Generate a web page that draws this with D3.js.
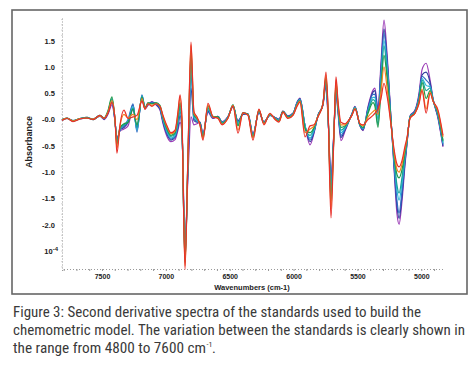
<!DOCTYPE html>
<html><head><meta charset="utf-8">
<script src="https://cdn.jsdelivr.net/npm/d3@7/dist/d3.min.js"></script>
<style>body{margin:0;background:#fff}</style>
</head><body><svg id="c" width="475" height="368"></svg>
<script>
const wavenumbers = [7813,7774,7727,7672,7617,7570,7516,7484,7453,7422,
 7398,7383,7359,7328,7296,7257,7226,7187,7163,7140,
 7109,7077,7046,7022,6991,6960,6928,6905,6889,6874,
 6850,6827,6803,6780,6756,6733,6709,6670,6631,6592,
 6560,6513,6474,6435,6396,6357,6318,6271,6232,6185,
 6145,6114,6083,6044,6004,5973,5950,5910,5871,5840,
 5809,5770,5746,5730,5707,5684,5668,5652,5629,5597,
 5574,5543,5519,5480,5456,5417,5378,5363,5339,5315,
 5292,5268,5237,5214,5190,5174,5151,5127,5112,5088,
 5049,5018,4994,4962,4931,4908,4869,4830];

const red = [-0.02,0.02,-0.04,0.01,0.03,0.0,0.08,0.02,0.12,0.32,
 0,-0.64,-0.1,0.18,0.02,0.05,0.08,0.35,0.2,0.3,
 0.25,0.3,0.25,0.08,-0.12,-0.25,-0.2,0.15,0.47,0.05,
 -2.85,-0.7,1.47,0.15,0.05,-0.1,-0.39,0.31,0.05,0.02,
 -0.1,0.03,0.26,-0.26,0.13,0.08,-0.39,0.2,-0.1,0.12,
 0,-0.05,0.14,0.02,0.08,0.25,0.33,-0.33,-0.12,-0.1,
 0.05,0.3,0.9,0.2,-1.87,-0.3,0.81,0.35,-0.05,-0.08,
 -0.03,0.08,0.2,-0.08,-0.1,0,0.08,0.12,0.2,0.4,
 0.69,0.45,-0.1,-0.55,-0.85,-0.9,-0.78,-0.5,-0.35,0.02,
 0.12,0.3,0.55,0.12,0.5,0.35,0.18,-0.3];

const orange = [-0.01,0.03,-0.03,0.02,0.03,0.01,0.07,0.02,0.14,0.36,
 0,-0.55,-0.12,0.1,0.03,0.1,0,0.4,0.2,0.3,
 0.27,0.3,0.25,0.06,-0.14,-0.27,-0.22,0.12,0.42,0,
 -2.78,-0.7,1.42,0.12,0.04,-0.1,-0.36,0.28,0.05,0.03,
 -0.09,0.03,0.27,-0.2,0.12,0.09,-0.35,0.19,-0.08,0.11,
 0.01,-0.04,0.14,0.03,0.09,0.27,0.35,-0.25,-0.18,-0.12,
 0.06,0.3,0.85,0.18,-1.7,-0.3,0.75,0.3,-0.1,-0.1,
 -0.04,0.08,0.21,-0.08,-0.12,0.05,0.15,0.18,0.1,0.55,
 1.0,0.6,-0.1,-0.6,-0.95,-1.0,-0.85,-0.55,-0.37,0.03,
 0.12,0.32,0.58,0.2,0.52,0.35,0.15,-0.33];

const green = [0,0.03,-0.03,0.02,0.03,0,0.08,0.03,0.17,0.43,
 0,-0.48,-0.15,-0.08,-0.05,0.2,-0.1,0.42,0.22,0.32,
 0.3,0.32,0.27,0.04,-0.17,-0.3,-0.25,0.05,0.32,-0.08,
 -2.7,-0.72,1.3,0.1,0.02,-0.08,-0.33,0.25,0.06,0.05,
 -0.07,0.04,0.28,-0.12,0.13,0.1,-0.33,0.18,-0.07,0.1,
 0.02,-0.03,0.15,0.04,0.1,0.28,0.36,-0.18,-0.25,-0.15,
 0.06,0.3,0.8,0.15,-1.55,-0.28,0.7,0.28,-0.15,-0.12,
 -0.05,0.09,0.22,-0.1,-0.15,0.12,0.32,0.25,-0.15,0.6,
 1.22,0.8,-0.05,-0.65,-1.05,-1.11,-0.95,-0.6,-0.39,0.04,
 0.13,0.35,0.7,0.4,0.55,0.36,0.12,-0.4];

const teal = [-0.01,0.02,-0.02,0.02,0.04,0.01,0.08,0.02,0.15,0.40,
 0,-0.45,-0.17,-0.1,-0.05,0.22,-0.15,0.44,0.22,0.3,
 0.3,0.31,0.25,0.02,-0.2,-0.32,-0.27,0,0.28,-0.1,
 -2.72,-0.78,1.2,0.08,0,-0.08,-0.32,0.22,0.05,0.04,
 -0.07,0.04,0.28,-0.1,0.12,0.1,-0.32,0.17,-0.07,0.1,
 0.02,-0.02,0.15,0.05,0.1,0.29,0.37,-0.15,-0.3,-0.17,
 0.07,0.3,0.77,0.12,-1.45,-0.27,0.66,0.25,-0.2,-0.14,
 -0.05,0.09,0.22,-0.1,-0.16,0.15,0.38,0.35,-0.1,0.7,
 1.4,0.9,-0.05,-0.7,-1.25,-1.4,-1.1,-0.65,-0.4,0.05,
 0.14,0.38,0.75,0.55,0.6,0.37,0.1,-0.42];

const cyan = [-0.02,0.03,-0.03,0.01,0.03,0,0.07,0.02,0.14,0.38,
 -0.02,-0.42,-0.18,-0.1,-0.03,0.25,-0.2,0.45,0.23,0.3,
 0.31,0.3,0.24,0,-0.23,-0.35,-0.3,-0.05,0.22,-0.12,
 -2.6,-0.8,1.05,0.05,-0.02,-0.07,-0.3,0.2,0.04,0.05,
 -0.06,0.05,0.27,-0.07,0.12,0.1,-0.31,0.16,-0.06,0.09,
 0.03,-0.01,0.15,0.05,0.11,0.3,0.38,-0.12,-0.35,-0.2,
 0.07,0.3,0.75,0.1,-1.35,-0.25,0.62,0.22,-0.25,-0.16,
 -0.06,0.1,0.23,-0.11,-0.17,0.17,0.42,0.42,0,0.8,
 1.5,1.0,-0.05,-0.75,-1.35,-1.53,-1.2,-0.7,-0.42,0.05,
 0.15,0.4,0.78,0.65,0.62,0.38,0.08,-0.45];

const blue = [-0.01,0.03,-0.03,0.02,0.03,0.01,0.08,0.01,0.13,0.36,
 -0.03,-0.40,-0.2,-0.12,0,0.3,-0.24,0.47,0.23,0.29,
 0.32,0.3,0.22,-0.03,-0.26,-0.37,-0.32,-0.1,0.15,-0.15,
 -2.62,-0.9,0.85,0.02,-0.04,-0.06,-0.3,0.18,0.04,0.05,
 -0.05,0.05,0.26,-0.05,0.11,0.1,-0.3,0.15,-0.05,0.09,
 0.03,0,0.15,0.06,0.11,0.31,0.39,-0.12,-0.38,-0.22,
 0.07,0.29,0.72,0.08,-1.25,-0.25,0.58,0.2,-0.3,-0.18,
 -0.06,0.1,0.23,-0.11,-0.18,0.2,0.48,0.48,0.1,0.95,
 1.64,1.1,0,-0.8,-1.55,-1.78,-1.35,-0.75,-0.43,0.06,
 0.16,0.42,0.82,0.75,0.65,0.38,0.06,-0.47];

const navy = [0,0.02,-0.02,0.02,0.04,0,0.07,0.01,0.12,0.33,
 -0.03,-0.38,-0.2,-0.15,-0.05,0.28,-0.2,0.45,0.22,0.28,
 0.33,0.29,0.2,-0.05,-0.28,-0.39,-0.34,-0.15,0.08,-0.18,
 -2.5,-0.95,0.6,-0.02,-0.05,-0.05,-0.28,0.16,0.03,0.06,
 -0.05,0.05,0.25,-0.03,0.1,0.11,-0.28,0.14,-0.05,0.08,
 0.04,0,0.16,0.06,0.12,0.32,0.4,-0.12,-0.42,-0.24,
 0.08,0.28,0.68,0.05,-1.15,-0.23,0.54,0.17,-0.34,-0.2,
 -0.07,0.11,0.24,-0.12,-0.2,0.22,0.52,0.55,0.15,1.0,
 1.72,1.15,0,-0.85,-1.65,-1.88,-1.45,-0.8,-0.45,0.06,
 0.17,0.45,0.85,0.9,0.7,0.38,0.04,-0.5];

const purple = [-0.02,0.03,-0.02,0.01,0.03,0.01,0.06,0,0.10,0.28,
 -0.04,-0.35,-0.22,-0.18,-0.12,0.2,-0.15,0.4,0.2,0.27,
 0.34,0.28,0.18,-0.08,-0.32,-0.42,-0.38,-0.2,-0.05,-0.25,
 -2.3,-1.1,0.05,-0.1,-0.08,-0.05,-0.26,0.14,0.02,0.06,
 -0.04,0.06,0.24,-0.02,0.1,0.11,-0.27,0.13,-0.04,0.08,
 0.04,0.01,0.16,0.07,0.12,0.33,0.41,-0.12,-0.48,-0.26,
 0.08,0.27,0.62,0.02,-1.05,-0.22,0.48,0.13,-0.4,-0.22,
 -0.08,0.11,0.25,-0.12,-0.21,0.25,0.56,0.6,0.22,1.1,
 1.89,1.25,0.02,-0.9,-1.8,-1.99,-1.55,-0.85,-0.47,0.07,
 0.18,0.5,0.95,1.07,0.75,0.4,0.02,-0.52];

const seriesList = [purple, navy, blue, cyan, teal, green, orange, red];
const seriesColors = ["#9b3cb6","#2c3c9c","#2f6cc4","#2cb8d6","#17a39a","#1f9a4a","#f5821f","#e8302a"];

const xTickValues = [7500,7000,6500,6000,5500,5000];
const yTickValues = [1.5,1.0,0.5,0,-0.5,-1.0,-1.5,-2.0,-2.5];
const yTickLabels = ["1.5","1.0","0.5","-0.0","-0.5","-1.0","-1.5","-2.0","10"];

const captionLines = [
  "Figure 3: Second derivative spectra of the standards used to build the",
  "chemometric model. The variation between the standards is clearly shown in",
  "the range from 4800 to 7600 cm"
];

const svg = d3.select("#c");
const x = d3.scaleLinear().domain([7813, 4830]).range([62, 443]);
const y = d3.scaleLinear().domain([1.93, -2.84]).range([18, 269]);

// outer frame
svg.append("rect").attr("x",12).attr("y",10).attr("width",455).attr("height",284)
  .attr("fill","none").attr("stroke","#666").attr("stroke-width",1.6);

// axes
const axFont = "'Liberation Sans', Arial, sans-serif";
const yAxis = svg.append("g").attr("transform","translate(62,0)")
  .call(d3.axisLeft(y).tickValues(yTickValues).tickSize(0).tickPadding(7)
    .tickFormat((d,i)=>yTickLabels[i]));
yAxis.select(".domain").attr("stroke","#999").attr("stroke-dasharray","1,2");
yAxis.selectAll("text").attr("font-family",axFont).attr("font-weight","bold")
  .attr("font-size",7.5).attr("fill","#222");
yAxis.selectAll(".tick").filter(d=>d===-2.5).select("text")
  .append("tspan").attr("dy",-3).attr("font-size",6).text("-4");
yAxis.selectAll(".tick").filter(d=>d===-2.5).select("text").attr("dx",3);

const xMinor = d3.range(4900, 7801, 100);
const xAxisMinor = svg.append("g").attr("transform","translate(0,269)")
  .call(d3.axisBottom(x).tickValues(xMinor).tickSize(2).tickFormat(""));
xAxisMinor.select(".domain").attr("stroke","#999").attr("stroke-dasharray","1,2");
xAxisMinor.selectAll(".tick line").attr("stroke","#999");

const xAxis = svg.append("g").attr("transform","translate(0,269)")
  .call(d3.axisBottom(x).tickValues(xTickValues).tickSize(0).tickPadding(5)
    .tickFormat(d3.format("d")));
xAxis.select(".domain").remove();
xAxis.selectAll("text").attr("font-family",axFont).attr("font-weight","bold")
  .attr("font-size",7).attr("fill","#222");

const yMinor = d3.range(-2.8, 1.91, 0.1);
svg.append("g").selectAll("line").data(yMinor).join("line")
  .attr("x1",61).attr("x2",63).attr("y1",d=>y(d)).attr("y2",d=>y(d))
  .attr("stroke","#bbb").attr("stroke-width",0.6);

// axis titles
svg.append("text").attr("transform","translate(32,142) rotate(-90)")
  .attr("text-anchor","middle").attr("font-family",axFont).attr("font-weight","bold")
  .attr("font-size",9).attr("fill","#222").text("Absorbance");
svg.append("text").attr("x",252).attr("y",290)
  .attr("text-anchor","middle").attr("font-family",axFont).attr("font-weight","bold")
  .attr("font-size",7.5).attr("fill","#222").text("Wavenumbers (cm-1)");

// spectra
const line = d3.line().x((d,i)=>x(wavenumbers[i])).y(d=>y(d)).curve(d3.curveMonotoneX);
svg.append("g").selectAll("path").data(seriesList).join("path")
  .attr("d", d=>line(d)).attr("fill","none")
  .attr("stroke",(d,i)=>seriesColors[i]).attr("stroke-width",1.2)
  .attr("stroke-linejoin","round");

// caption
const capFont = "'Liberation Sans Narrow', 'Arial Narrow', 'Roboto Condensed', sans-serif";
const capX = 13;
const capY = [317, 335, 353];
const capW = [408, 452, 193];
captionLines.forEach((t,i)=>{
  svg.append("text").attr("x",capX).attr("y",capY[i])
    .attr("font-family",capFont).attr("font-size",14.5).attr("fill","#3a3a3a")
    .attr("textLength",capW[i]).attr("lengthAdjust","spacingAndGlyphs").text(t);
});
svg.append("text").attr("x",capX+capW[2]+0.5).attr("y",capY[2]-6)
  .attr("font-family",capFont).attr("font-size",8).attr("fill","#3a3a3a").text("-1");
svg.append("text").attr("x",capX+capW[2]+6).attr("y",capY[2])
  .attr("font-family",capFont).attr("font-size",14.5).attr("fill","#3a3a3a").text(".");
</script></body></html>
